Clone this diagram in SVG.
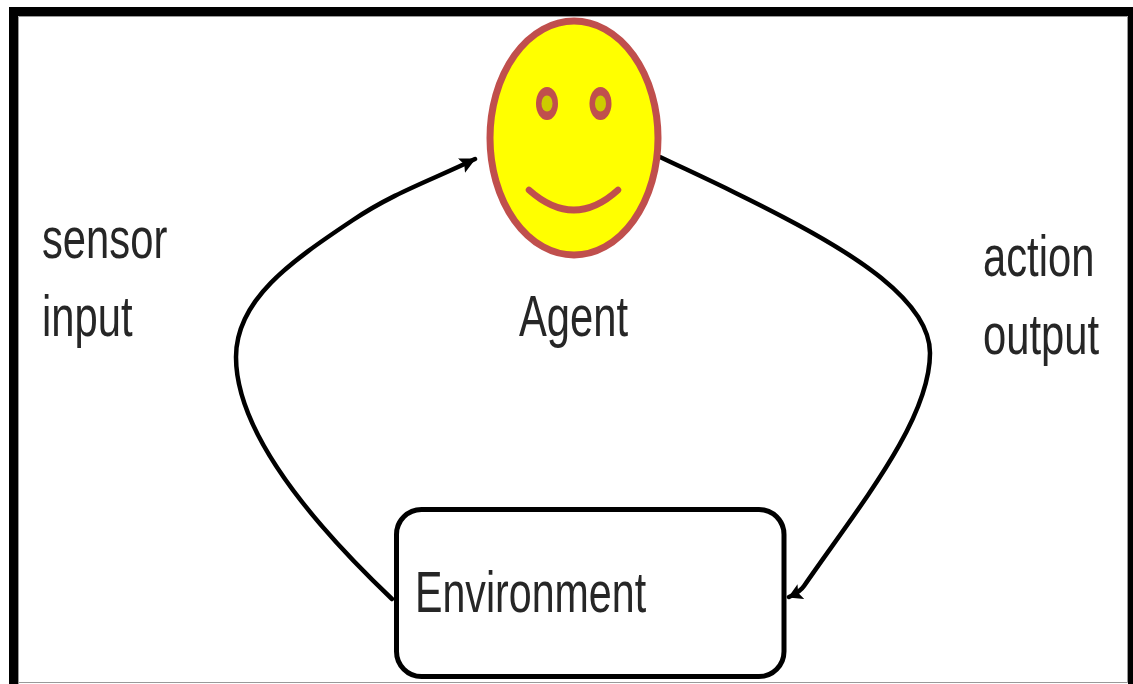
<svg xmlns="http://www.w3.org/2000/svg" width="1133" height="684" viewBox="0 0 1133 684">
<style>
.lbl{font-family:"Liberation Sans",Arial,sans-serif;font-size:58px;fill:#262626}
.conn{fill:none;stroke:#000;stroke-width:4.500;stroke-linecap:round}
.face{fill:none;stroke:#c0504d;stroke-linecap:round}
.eye{fill:#c0504d}
.pupil{fill:#cccc00}
</style>
<defs>
<filter id="soft" x="-5%" y="-5%" width="110%" height="110%"><feGaussianBlur stdDeviation="0.600"/></filter>
<marker id="ah" markerUnits="userSpaceOnUse" markerWidth="20" markerHeight="18" refX="15" refY="8" orient="auto"><path d="M0 0L16 8L0 16L3 8Z" fill="#000"/></marker>
<marker id="ah2" markerUnits="userSpaceOnUse" markerWidth="18" markerHeight="18" refX="13" refY="8" orient="auto"><path d="M0 0L14 8L0 16L3 8Z" fill="#000"/></marker>
</defs>
<rect width="1133" height="684" fill="#fff"/>
<g id="frame">
<path d="M9 684V7H1133V16H18V684Z" fill="#000"/>
<rect x="1128" y="16" width="5" height="668" fill="#000"/>
<path d="M18.500 684V16.500H1127.500V682.500H18" fill="none" stroke="#999" stroke-width="1"/>
</g>
<g filter="url(#soft)">
<g id="connectors">
<path class="conn" marker-end="url(#ah)" d="M392 599C330 540 236 440 236 357C236 300 290 262 353 220C395 192 432 180 475 159"/>
<path class="conn" marker-end="url(#ah2)" d="M660 157C700 176 740 194 783 217C850 252 930 300 930 353C930 420 860 505 804 586Q800 592 789 597"/>
</g>
<g id="agent">
<ellipse cx="574" cy="138" rx="84" ry="117" fill="#ff0" stroke="#c0504d" stroke-width="7"/>
<ellipse class="eye" cx="547" cy="103.500" rx="11" ry="16.500"/>
<ellipse class="pupil" cx="547" cy="103.500" rx="5.500" ry="8"/>
<ellipse class="eye" cx="600.500" cy="103.500" rx="11" ry="16.500"/>
<ellipse class="pupil" cx="600.500" cy="103.500" rx="5.500" ry="8"/>
<path class="face" stroke-width="6.500" d="M529 190Q574 230 618 190"/>
<text class="lbl" transform="translate(519 336) scale(.72 1)">Agent</text>
</g>
<g id="environment">
<rect x="396.500" y="509.500" width="387.500" height="167" rx="25" fill="#fff" stroke="#000" stroke-width="5"/>
<text class="lbl" transform="translate(415 612) scale(.71 1)">Environment</text>
</g>
<g id="sensor-input">
<text class="lbl" transform="translate(42 258) scale(.72 1)">sensor</text>
<text class="lbl" transform="translate(42 336) scale(.72 1)">input</text>
</g>
<g id="action-output">
<text class="lbl" transform="translate(983 276) scale(.72 1)">action</text>
<text class="lbl" transform="translate(983 354) scale(.72 1)">output</text>
</g>
</g>
</svg>
